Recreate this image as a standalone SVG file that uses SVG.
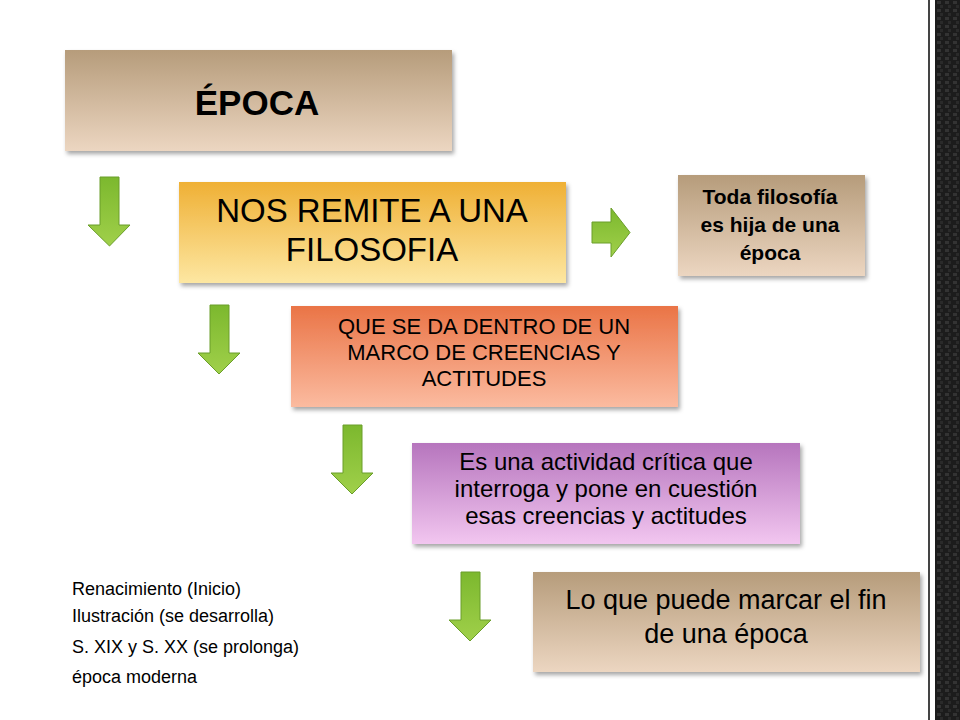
<svg xmlns="http://www.w3.org/2000/svg" width="960" height="720" viewBox="0 0 960 720">
<defs>
<linearGradient id="gBrown" x1="0" y1="0" x2="0" y2="1"><stop offset="0" stop-color="#b69c7b"/><stop offset="1" stop-color="#ecd6c1"/></linearGradient>
<linearGradient id="gGold" x1="0" y1="0" x2="0" y2="1"><stop offset="0" stop-color="#efb035"/><stop offset="1" stop-color="#fde7a2"/></linearGradient>
<linearGradient id="gOrange" x1="0" y1="0" x2="0" y2="1"><stop offset="0" stop-color="#ea7446"/><stop offset="1" stop-color="#fbbba0"/></linearGradient>
<linearGradient id="gPurple" x1="0" y1="0" x2="0" y2="1"><stop offset="0" stop-color="#b675bd"/><stop offset="1" stop-color="#f2c6f0"/></linearGradient>
<linearGradient id="gGreen" x1="0" y1="0" x2="0" y2="1"><stop offset="0" stop-color="#7cb82e"/><stop offset="1" stop-color="#a0d04a"/></linearGradient>
<filter id="sh" x="-5%" y="-5%" width="115%" height="120%"><feDropShadow dx="2" dy="3" stdDeviation="2" flood-color="#000" flood-opacity="0.35"/></filter>
<pattern id="carbon" width="8" height="8" patternUnits="userSpaceOnUse"><rect width="8" height="8" fill="#1c1c1c"/><rect x="1" y="1" width="4" height="3" fill="#333"/><rect x="4" y="5" width="3" height="3" fill="#2a2a2a"/></pattern>
</defs>
<style>
.t{font-family:"Liberation Sans",Arial,sans-serif;fill:#000;text-anchor:middle}
.arr{fill:url(#gGreen);stroke:#6a9e2a;stroke-width:1}
</style>
<rect width="960" height="720" fill="#fff"/>
<rect x="928" y="0" width="2" height="720" fill="#444"/>
<rect x="935" y="0" width="25" height="720" fill="url(#carbon)"/>
<g id="epoca"><rect x="65" y="50" width="387" height="101" fill="url(#gBrown)" filter="url(#sh)"/><text class="t" x="257" y="115" font-size="35" font-weight="bold">ÉPOCA</text></g>
<g id="remite"><rect x="179" y="182" width="387" height="101" fill="url(#gGold)" filter="url(#sh)"/><text class="t" x="372" y="222" font-size="33">NOS REMITE A UNA</text><text class="t" x="372" y="261" font-size="33">FILOSOFIA</text></g>
<g id="toda"><rect x="678" y="175" width="187" height="101" fill="url(#gBrown)" filter="url(#sh)"/><text class="t" x="770" y="204" font-size="21" font-weight="bold">Toda filosofía</text><text class="t" x="770" y="232" font-size="21" font-weight="bold">es hija de una</text><text class="t" x="770" y="260" font-size="21" font-weight="bold">época</text></g>
<g id="marco"><rect x="291" y="306" width="387" height="101" fill="url(#gOrange)" filter="url(#sh)"/><text class="t" x="484" y="334" font-size="22">QUE SE DA DENTRO DE UN</text><text class="t" x="484" y="360" font-size="22">MARCO DE CREENCIAS Y</text><text class="t" x="484" y="386" font-size="22">ACTITUDES</text></g>
<g id="critica"><rect x="412" y="443" width="388" height="101" fill="url(#gPurple)" filter="url(#sh)"/><text class="t" x="606" y="470" font-size="24">Es una actividad crítica que</text><text class="t" x="606" y="497" font-size="24">interroga y pone en cuestión</text><text class="t" x="606" y="524" font-size="24">esas creencias y actitudes</text></g>
<g id="fin"><rect x="533" y="572" width="387" height="100" fill="url(#gBrown)" filter="url(#sh)"/><text class="t" x="726" y="609" font-size="27">Lo que puede marcar el fin</text><text class="t" x="726" y="643" font-size="27">de una época</text></g>
<g id="lista" font-family="'Liberation Sans',Arial,sans-serif" font-size="18" fill="#000"><text x="72" y="595">Renacimiento (Inicio)</text><text x="72" y="622">Ilustración  (se desarrolla)</text><text x="72" y="653">S. XIX y S. XX (se prolonga)</text><text x="72" y="683">época moderna</text></g>
<g id="conectores">
<path class="arr" d="M100 177H119V225H130L109.5 246L88 225H100Z"/>
<path class="arr" d="M210 305H229V353H240L219 374L198 353H210Z"/>
<path class="arr" d="M343 425H362V473H373L352 494L331 473H343Z"/>
<path class="arr" d="M461 572H480V620H491L470 641L449 620H461Z"/>
<path class="arr" d="M592 222H611V208L630 232.5L611 257V243H592Z"/>
</g>
</svg>
